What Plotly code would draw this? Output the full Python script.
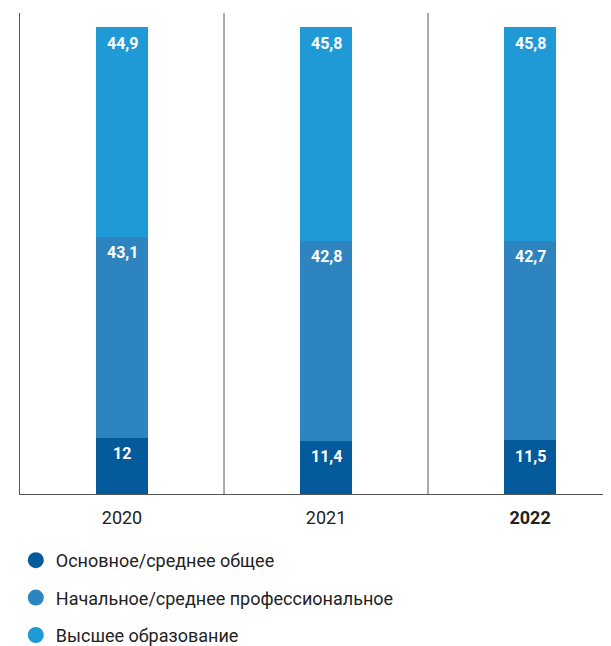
import plotly.graph_objects as go

years = ["2020", "2021", "2022"]
tick_labels = ["2020", "2021", "<b>2022</b>"]
series_names = ["Основное/среднее общее", "Начальное/среднее профессиональное", "Высшее образование"]
basic = [12, 11.4, 11.5]
vocational = [43.1, 42.8, 42.7]
higher = [44.9, 45.8, 45.8]
colors = ["#055a9b", "#2d84bf", "#1f9ad6"]

FONT = "Roboto, sans-serif"
series = [basic, vocational, higher]

fig = go.Figure()
xs = [0, 1, 2]
for name, vals, col in zip(series_names, series, colors):
    fig.add_trace(go.Bar(x=xs, y=vals, marker=dict(color=col, line=dict(width=0)),
                         width=0.255, showlegend=False, hoverinfo="skip"))

# legend entries with circular markers
for i, (name, col) in enumerate(zip(series_names, colors)):
    fig.add_trace(go.Scatter(x=[None], y=[None], mode="markers", name=name,
                             marker=dict(symbol="circle", size=20, color=col),
                             legendgroup=f"g{i}", showlegend=True))

# value labels near the top of each segment
for xi in xs:
    cum = 0
    for vals in series:
        cum += vals[xi]
        txt = f"{vals[xi]:g}".replace(".", ",")
        fig.add_annotation(x=xi, y=cum, text=f"<b>{txt}</b>", showarrow=False,
                           yshift=-16, font=dict(family=FONT, size=16, color="white"))

# category separators
for sx in [0.5, 1.5]:
    fig.add_shape(type="line", x0=sx, x1=sx, y0=0, y1=1, xref="x", yref="paper",
                  line=dict(color="#555555", width=1))

fig.update_layout(
    width=611, height=646,
    margin=dict(l=12, r=0, t=5, b=159),
    barmode="stack",
    bargap=0,
    plot_bgcolor="white", paper_bgcolor="white",
    font=dict(family=FONT, size=18, color="#222222"),
    xaxis=dict(range=[-0.5, 2.436], tickmode="array", tickvals=xs, ticktext=tick_labels,
               showgrid=False, zeroline=False, showline=True, linecolor="#555555",
               linewidth=1, ticks="", ticklen=0, ticklabelstandoff=7,
               tickfont=dict(size=18, color="#222222"), fixedrange=True),
    yaxis=dict(range=[0, 103], showgrid=False, zeroline=False, showticklabels=False,
               showline=True, linecolor="#555555", linewidth=1, ticks="", fixedrange=True),
    legend=dict(orientation="v", x=-0.007, xanchor="left", y=-0.1, yanchor="top",
                font=dict(family=FONT, size=18, color="#222222"),
                tracegroupgap=11, itemsizing="trace", bgcolor="rgba(0,0,0,0)"),
)

fig.write_html("out.html")
